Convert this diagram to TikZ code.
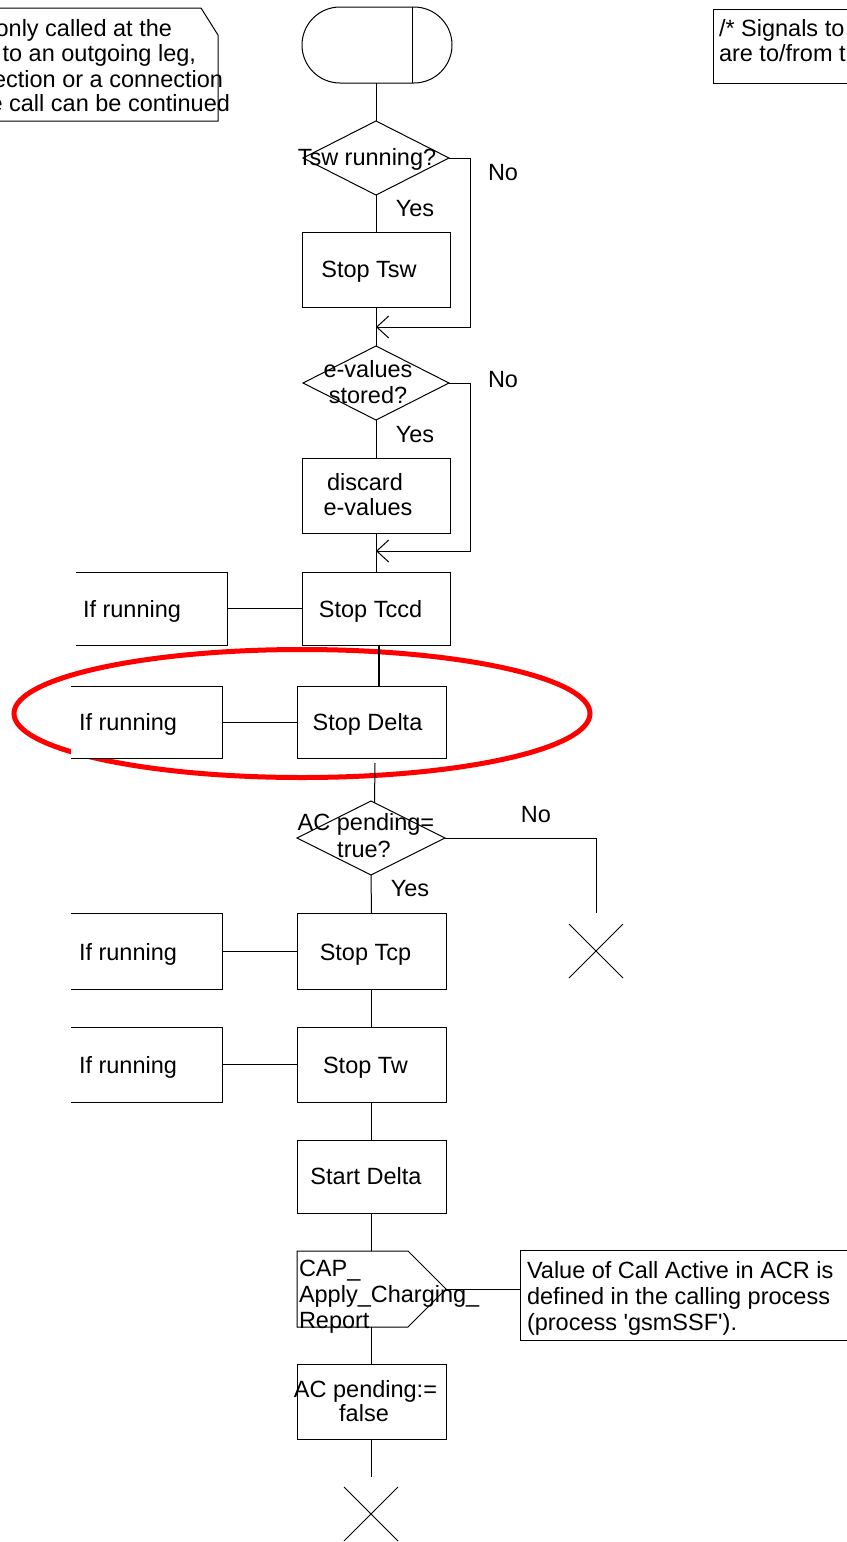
\documentclass[tikz,border=0pt]{standalone}
\usepackage{fontspec}
\setmainfont{Liberation Sans}
\usetikzlibrary{shapes.geometric,shapes.misc,arrows.meta,calc}

\begin{document}
\begin{tikzpicture}[x=1pt,y=-1pt,line width=1pt,
  every node/.style={inner sep=0pt,outer sep=0pt,font=\fontsize{23.5}{26}\selectfont},
  proc/.style={draw,fill=white,rectangle},
  cmtbox/.style={fill=white,rectangle},
  decision/.style={draw,fill=white,diamond,minimum width=146,minimum height=74},
  terminal/.style={draw,fill=white,rectangle,rounded corners=38,minimum width=150,minimum height=76},
  stopx/.style={draw,cross out,minimum size=54},
  lbl/.style={anchor=base},
  lblw/.style={anchor=base west},
  lble/.style={anchor=base east},
  mergearrow/.style={-{Straight Barb[length=12pt,width=22pt]}},
  hilite/.style={draw=red,line width=5pt}
]
\useasboundingbox (0,0) rectangle (846,1542);

% highlight around the Stop Delta step
\draw[hilite] (302,713.5) ellipse [x radius=288, y radius=64];

% text symbols (notes)
\draw (-10,8) -- (201,8) -- (218,35) -- (218,121) -- (-10,121);
\draw (860,9) -- (713,9) -- (713,83) -- (860,83);

% flow symbols
\node[terminal] (start) at (377,45) {};
\node[decision] (d1) at (376,158) {};
\node[proc,minimum width=148,minimum height=75] (b1) at (376,269.5) {};
\node[decision] (d2) at (376,383) {};
\node[proc,minimum width=148,minimum height=75] (b2) at (376,495.5) {};
\node[proc,minimum width=148,minimum height=73] (b3) at (376,608.5) {};
\node[cmtbox,minimum width=151,minimum height=73] (c1) at (151.5,608.5) {};
\node[proc,minimum width=149,minimum height=72] (b4) at (371.5,722) {};
\node[cmtbox,minimum width=151,minimum height=72] (c2) at (146.5,722) {};
\node[decision,minimum width=148] (d3) at (371,838) {};
\node[proc,minimum width=149,minimum height=76] (b5) at (371.5,951) {};
\node[cmtbox,minimum width=151,minimum height=76] (c3) at (146.5,951) {};
\node[proc,minimum width=149,minimum height=75] (b6) at (371.5,1064.5) {};
\node[cmtbox,minimum width=151,minimum height=75] (c4) at (146.5,1064.5) {};
\node[proc,minimum width=149,minimum height=73] (b7) at (371.5,1176.5) {};
\node[minimum width=149,minimum height=76] (out) at (371.5,1289) {};
\node[proc,minimum width=340,minimum height=90] (note3) at (690,1295) {};
\node[proc,minimum width=149,minimum height=75] (b8) at (371.5,1401.5) {};
\node[stopx] (x1) at (596,951) {};
\node[stopx] (x2) at (371,1514) {};
\coordinate (m1) at (376,327);
\coordinate (m2) at (376,551);
\coordinate (xa) at (596,913);
\coordinate (tail) at (371.5,1477);

% output signal symbol
\filldraw[fill=white] (out.north west) -- ($(out.north east)+(-38,0)$) -- (out.east)
  -- ($(out.south east)+(-38,0)$) -- (out.south west) -- cycle;

% start symbol divider
\draw ([xshift=-40pt]start.north east) -- ([xshift=-40pt]start.south east);

% comment brackets
\foreach \c in {c1,c2,c3,c4}
  \draw (\c.north west) -- (\c.north east) -- (\c.south east) -- (\c.south west);

% flow lines
\draw (d1.north |- start.south) -- (d1.north);
\draw (d1.south) -- (b1.north);
\draw (b1.south) -- (d2.north);
\draw[mergearrow] (d1.east) -- ++(21,0) |- (m1);
\draw (d2.south) -- (b2.north);
\draw[mergearrow] (d2.east) -- ++(21,0) |- (m2);
\draw (b2.south) -- (b3.north);
\draw (c1.east) -- (b3.west);
\draw[line width=1.8pt] ([xshift=3pt]b3.south) -- ([xshift=3pt]b3.south |- b4.north);
\draw ([shift={(3.5,5)}]b4.south) -- ([shift={(3.5,2)}]d3.north);
\draw (c2.east) -- (b4.west);
\draw (d3.south) -- (b5.north);
\draw (d3.east) -| (xa);
\draw (c3.east) -- (b5.west);
\draw (b5.south) -- (b6.north);
\draw (c4.east) -- (b6.west);
\draw (b6.south) -- (b7.north);
\draw (b7.south) -- (out.north);
\draw (out.east) -- (out.east -| note3.west);
\draw (out.south) -- (b8.north);
\draw (b8.south) -- (tail);

% texts
\node[lble] (n1a) at (172,36) {only called at the};
\node[lble] (n1b) at (196,61) {to an outgoing leg,};
\node[lble] (n1c) at (223,87) {ection or a connection};
\node[lble] (n1d) at (230,111) {e call can be continued};
\node[lblw] (n2a) at (719,36) {/* Signals to};
\node[lblw] (n2b) at (719,61) {are to/from t};

\node[lbl] (t1) at (367,165) {Tsw running?};
\node[lblw] (no1) at (488,180) {No};
\node[lbl] (yes1) at (415,216) {Yes};
\node[lbl] (t2) at (369,277) {Stop Tsw};
\node[lbl] (t3a) at (368,377) {e-values};
\node[lbl] (t3b) at (368,403) {stored?};
\node[lblw] (no2) at (488,387) {No};
\node[lbl] (yes2) at (415,442) {Yes};
\node[lbl] (t4a) at (365,490) {discard};
\node[lbl] (t4b) at (368,515) {e-values};
\node[lbl] (t5) at (370.5,617) {Stop Tccd};
\node[lblw] (t6) at (83,617) {If running};
\node[lbl] (t7) at (367.5,730) {Stop Delta};
\node[lblw] (t8) at (79,730) {If running};
\node[lbl] (t9a) at (366,830) {AC pending=};
\node[lbl] (t9b) at (364,857) {true?};
\node[lbl] (no3) at (536,822) {No};
\node[lbl] (yes3) at (410,896) {Yes};
\node[lbl] (t10) at (365.5,960) {Stop Tcp};
\node[lblw] (t11) at (79,960) {If running};
\node[lbl] (t12) at (365.5,1073) {Stop Tw};
\node[lblw] (t13) at (79,1073) {If running};
\node[lbl] (t14) at (366,1184) {Start Delta};
\node[lblw] (t15a) at (299,1276) {CAP\_};
\node[lblw] (t15b) at (299,1302) {Apply\_Charging\_};
\node[lblw] (t15c) at (299,1328) {Report};
\node[lblw] (t16a) at (527,1278) {Value of Call Active in ACR is};
\node[lblw] (t16b) at (527,1304) {defined in the calling process};
\node[lblw] (t16c) at (527,1330) {(process {\textquotesingle}gsmSSF{\textquotesingle}).};
\node[lbl] (t17a) at (365.5,1397) {AC pending:=};
\node[lbl] (t17b) at (364,1421) {false};
\end{tikzpicture}
\end{document}
